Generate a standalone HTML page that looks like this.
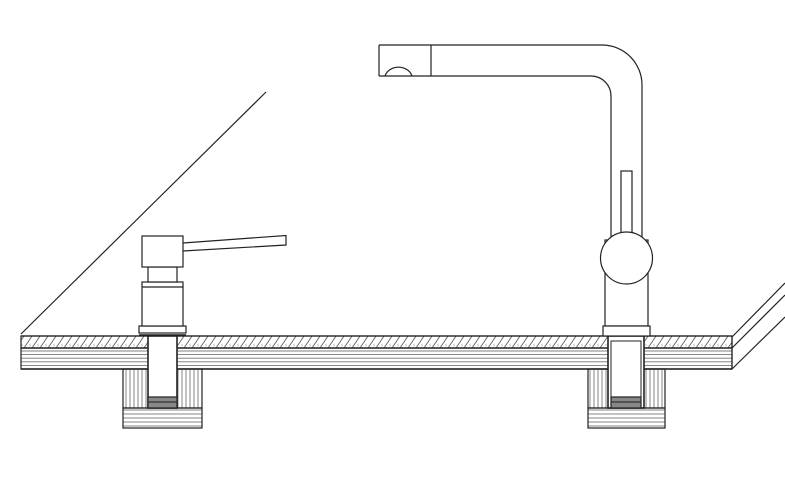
<!DOCTYPE html>
<html><head><style>html,body{margin:0;padding:0;background:#fff;}svg{display:block;}</style></head>
<body>
<svg width="785" height="488" viewBox="0 0 785 488" xmlns="http://www.w3.org/2000/svg">
<defs>
<pattern id="hatch" width="8" height="12" patternUnits="userSpaceOnUse">
<line x1="0" y1="12" x2="8" y2="0" stroke="#555" stroke-width="0.8"/>
<circle cx="6" cy="9" r="0.5" fill="#444"/>
</pattern>
<pattern id="hl" width="10" height="3.6" patternUnits="userSpaceOnUse">
<line x1="0" y1="1.8" x2="10" y2="1.8" stroke="#777" stroke-width="0.9"/>
</pattern>
<pattern id="vl" width="4" height="10" patternUnits="userSpaceOnUse">
<line x1="2" y1="0" x2="2" y2="10" stroke="#777" stroke-width="0.9"/>
</pattern>
<pattern id="hl2" width="10" height="4" patternUnits="userSpaceOnUse">
<line x1="0" y1="2" x2="10" y2="2" stroke="#777" stroke-width="0.9"/>
</pattern>
</defs>
<g fill="none" stroke="#222" stroke-width="1.2">
<line x1="21" y1="334" x2="266" y2="92"/>
<rect x="21" y="336" width="711" height="12" fill="url(#hatch)"/>
<rect x="21" y="348" width="711" height="21" fill="url(#hl)"/>
<line x1="21" y1="336" x2="732" y2="336"/>
<line x1="21" y1="348" x2="732" y2="348"/>
<line x1="21" y1="369" x2="732" y2="369" stroke-width="1.6"/>
<line x1="732" y1="336" x2="732" y2="369"/>
<line x1="732" y1="337" x2="785" y2="283"/>
<line x1="732" y1="348" x2="785" y2="295"/>
<line x1="732" y1="369" x2="785" y2="317"/>

<rect x="123" y="369" width="79" height="39" fill="url(#vl)"/>
<rect x="123" y="408" width="79" height="20" fill="url(#hl2)"/>
<rect x="148" y="336" width="29" height="72" fill="#fff" stroke-width="1.6"/>
<rect x="148" y="397" width="29" height="11" fill="#888"/>
<line x1="148" y1="402" x2="177" y2="402" stroke="#333"/>

<rect x="588" y="369" width="77" height="39" fill="url(#vl)"/>
<rect x="588" y="408" width="77" height="20" fill="url(#hl2)"/>
<rect x="608" y="336" width="36" height="72" fill="#fff" stroke-width="1.6"/>
<rect x="611" y="341" width="30" height="67" fill="#fff" stroke-width="1"/>
<rect x="611" y="397" width="30" height="11" fill="#888"/>
<line x1="611" y1="402" x2="641" y2="402" stroke="#333"/>

<rect x="139" y="326" width="47" height="7" fill="#fff"/>
<line x1="139" y1="335" x2="186" y2="335" stroke-width="1.6"/>
<rect x="142" y="282" width="41" height="44" fill="#fff"/>
<line x1="142" y1="287" x2="183" y2="287"/>
<rect x="148" y="267" width="29" height="15" fill="#fff"/>
<path d="M183 243 L286 235.5 L286 245 L183 251 Q177 247 183 243 Z" fill="#fff"/>
<rect x="142" y="236" width="41" height="31" fill="#fff"/>

<path d="M379 45 L602 45 A40 40 0 0 1 642 85 L642 326" />
<path d="M379 76 L591 76 A20 20 0 0 1 611 96 L611 326" />
<rect x="605" y="240" width="43" height="86" fill="#fff"/>
<rect x="621" y="171" width="11" height="70" fill="#fff"/>
<circle cx="626.5" cy="258" r="26" fill="#fff"/>
<rect x="603" y="326" width="47" height="10" fill="#fff"/>
<line x1="379" y1="45" x2="379" y2="76"/>
<line x1="431" y1="45" x2="431" y2="76"/>
<path d="M385 76 A14 12 0 0 1 412 76"/>
</g>
</svg>
</body></html>
